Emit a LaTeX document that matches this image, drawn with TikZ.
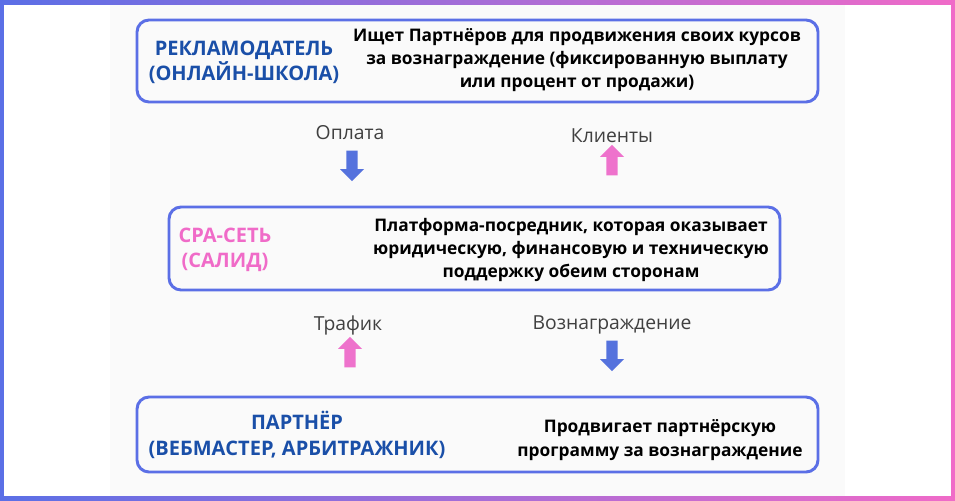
\documentclass[tikz,border=0pt]{standalone}
\usepackage{fontspec}
\setmainfont{Open Sans}
\usetikzlibrary{shapes.arrows}
\definecolor{frameblue}{HTML}{5B6FE6}
\definecolor{titleblue}{HTML}{1A4FA8}
\definecolor{pinkish}{HTML}{F06BC8}
\definecolor{arrblue}{HTML}{5572DD}
\definecolor{arrpink}{HTML}{EE72CC}
\tikzset{
  box/.style={draw=frameblue,line width=2.2pt,rounded corners=9pt},
  title/.style={font=\bfseries\fontsize{15}{19}\selectfont,align=center},
  info/.style={font=\bfseries\fontsize{13}{17.5}\selectfont,align=center},
  flow/.style={font=\fontsize{14.5}{16}\selectfont,text=black!75},
  blockarrow/.style={single arrow,minimum height=23pt,minimum width=18pt,
    single arrow head extend=3pt,inner sep=2.5pt,draw=none}
}
\begin{document}
\begin{tikzpicture}[x=0.75pt,y=-0.75pt]
\useasboundingbox (0,0) rectangle (955,500);
\shade[left color=frameblue,right color=pinkish] (0,0) rectangle (955,500);
\fill[white] (4,5) rectangle (951,496);
\fill[black!2] (110,5) rectangle (845,496);
% boxes
\draw[box] (137,20) rectangle (818,102);
\draw[box] (169,207) rectangle (780,290);
\draw[box] (137,397) rectangle (818,472);
\node[title,text=titleblue] (adv) at (244,62) {РЕКЛАМОДАТЕЛЬ\\(ОНЛАЙН-ШКОЛА)};
\node[info] (advtext) at (577,60) {Ищет Партнёров для продвижения своих курсов\\за вознаграждение (фиксированную выплату\\или процент от продажи)};
\node[title,text=pinkish] (cpa) at (225,250) {CPA-СЕТЬ\\(САЛИД)};
\node[info] (cpatext) at (571,250) {Платформа-посредник, которая оказывает\\юридическую, финансовую и техническую\\поддержку обеим сторонам};
\node[title,text=titleblue] (partner) at (297,435) {ПАРТНЁР\\(ВЕБМАСТЕР, АРБИТРАЖНИК)};
\node[info] (partnertext) at (660,440) {Продвигает партнёрскую\\программу за вознаграждение};
% flows
\node[flow] (pay) at (350,133) {Оплата};
\node[flow] (clients) at (612,136) {Клиенты};
\node[flow] (traffic) at (348,325) {Трафик};
\node[flow] (reward) at (612,325) {Вознаграждение};
\node[blockarrow,fill=arrblue,rotate=-90] (payarr) at (352,163) {};
\node[blockarrow,fill=arrpink,rotate=90] (clientsarr) at (612,163) {};
\node[blockarrow,fill=arrpink,rotate=90] (trafficarr) at (350,355) {};
\node[blockarrow,fill=arrblue,rotate=-90] (rewardarr) at (612,353) {};
\end{tikzpicture}
\end{document}
